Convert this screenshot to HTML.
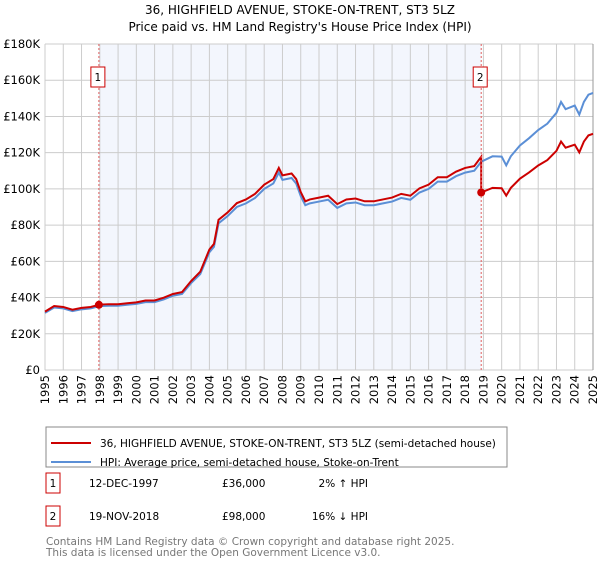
<!DOCTYPE html>
<html><head><meta charset="utf-8"><style>
body{margin:0;background:#fff;font-family:"Liberation Sans","DejaVu Sans",sans-serif;}
svg text{font-family:"DejaVu Sans","Liberation Sans",sans-serif;}
</style></head><body>
<svg id="c" width="600" height="560" xmlns="http://www.w3.org/2000/svg">
<text x="300" y="14" text-anchor="middle" font-size="12">36, HIGHFIELD AVENUE, STOKE-ON-TRENT, ST3 5LZ</text>
<text x="300" y="31" text-anchor="middle" font-size="12">Price paid vs. HM Land Registry's House Price Index (HPI)</text>
<g id="plot"></g>
<g>
<rect x="46" y="427" width="461" height="40" fill="#fff" stroke="#888"/>
<line x1="51" y1="443" x2="91" y2="443" stroke="#cc0000" stroke-width="2"/>
<text x="100" y="447" font-size="10.5">36, HIGHFIELD AVENUE, STOKE-ON-TRENT, ST3 5LZ (semi-detached house)</text>
<line x1="51" y1="462" x2="91" y2="462" stroke="#5b8fd6" stroke-width="2"/>
<text x="100" y="466" font-size="10.5">HPI: Average price, semi-detached house, Stoke-on-Trent</text>
</g>
<g font-size="10.5">
<rect x="46" y="473" width="14" height="20" fill="#fff" stroke="#cc0000"/>
<text x="53" y="487" text-anchor="middle">1</text>
<text x="89" y="487">12-DEC-1997</text>
<text x="222" y="487">£36,000</text>
<text x="368" y="487" text-anchor="end">2% ↑ HPI</text>
<rect x="46" y="506" width="14" height="20" fill="#fff" stroke="#cc0000"/>
<text x="53" y="520" text-anchor="middle">2</text>
<text x="89" y="520">19-NOV-2018</text>
<text x="222" y="520">£98,000</text>
<text x="368" y="520" text-anchor="end">16% ↓ HPI</text>
</g>
<text x="46" y="545" font-size="10.5" fill="#777">Contains HM Land Registry data © Crown copyright and database right 2025.</text>
<text x="46" y="556" font-size="10.5" fill="#777">This data is licensed under the Open Government Licence v3.0.</text>
</svg>
<script>
const hpiYears=[1995.0,1995.5,1996.0,1996.5,1997.0,1997.5,1998.0,1998.5,1999.0,1999.5,2000.0,2000.5,2001.0,2001.5,2002.0,2002.5,2003.0,2003.5,2004.0,2004.25,2004.5,2005.0,2005.5,2006.0,2006.5,2007.0,2007.5,2007.8,2008.0,2008.5,2008.75,2009.0,2009.25,2009.5,2010.0,2010.5,2011.0,2011.5,2012.0,2012.5,2013.0,2013.5,2014.0,2014.5,2015.0,2015.5,2016.0,2016.5,2017.0,2017.5,2018.0,2018.5,2018.88,2019.5,2020.0,2020.25,2020.5,2021.0,2021.5,2022.0,2022.5,2023.0,2023.25,2023.5,2024.0,2024.25,2024.5,2024.75,2025.0];
const hpiValues=[31.5,34.5,34,32.5,33.5,34,35.3,35.5,35.5,36,36.5,37.5,37.5,39,41,42,48,53,65,68,81,85,90,92,95,100,103,109,105,106,103,96,91,92,93,94,89.5,92,92.5,91,91,92,93,95,94,98,100,104,104,107,109,110,115,118,117.8,113,118,124,128,132.5,136,142,148,144,146,141,148,152,153];
const yTicks=[0,20,40,60,80,100,120,140,160,180];
const xTicks=[1995,1996,1997,1998,1999,2000,2001,2002,2003,2004,2005,2006,2007,2008,2009,2010,2011,2012,2013,2014,2015,2016,2017,2018,2019,2020,2021,2022,2023,2024,2025];
const saleDates=[1997.95,2018.88];
const salePrices=[36,98];
const saleLabels=["1","2"];

const NS="http://www.w3.org/2000/svg";
const L=45,R=593,T=44,B=370;
const x=t=>L+(t-1995)/30*(R-L);
const y=v=>B-v/180*(B-T);
const g=document.getElementById('plot');
function mk(tag,attrs,parent){const e=document.createElementNS(NS,tag);for(const k in attrs)e.setAttribute(k,attrs[k]);(parent||g).appendChild(e);return e;}

const shade=mk('rect',{x:x(saleDates[0]),y:T,width:x(saleDates[1])-x(saleDates[0]),height:B-T,fill:'#f3f6fd'});



yTicks.forEach(v=>{
 const l=mk('line',{x1:L,x2:R,y1:y(v),y2:y(v),stroke:'#cccccc'});
 
 
 const t=mk('text',{x:L-5,y:y(v)+4,'text-anchor':'end','font-size':'11.5'});
 t.textContent='£'+(v===0?'0':v+'K');
 
 
});
xTicks.forEach(yr=>{
 const l=mk('line',{x1:x(yr),x2:x(yr),y1:T,y2:B,stroke:'#cccccc'});
 
 
 const t=mk('text',{x:0,y:0,'text-anchor':'end','font-size':'11.5',transform:`translate(${x(yr)+4},${B+5}) rotate(-90)`});
 t.textContent=yr;
 
 
});
const rb=mk('line',{x1:R,x2:R,y1:T,y2:B,stroke:'#999'});



function hpiAt(t){for(let i=0;i<hpiYears.length-1;i++){if(t<=hpiYears[i+1]){const f=(t-hpiYears[i])/(hpiYears[i+1]-hpiYears[i]);return hpiValues[i]+f*(hpiValues[i+1]-hpiValues[i]);}}return hpiValues[hpiValues.length-1];}
const r1=salePrices[0]/hpiAt(saleDates[0]);
const r2=salePrices[1]/hpiAt(saleDates[1]);

const hp=mk('polyline',{points:hpiYears.map((t,i)=>x(t)+','+y(hpiValues[i])).join(' '),fill:'none',stroke:'#5b8fd6','stroke-width':2});



const pts=[];
hpiYears.forEach((t,i)=>{if(t<saleDates[1])pts.push([t,hpiValues[i]*r1]);});
pts.push([saleDates[1],hpiAt(saleDates[1])*r1]);
pts.push([saleDates[1],salePrices[1]]);
hpiYears.forEach((t,i)=>{if(t>saleDates[1])pts.push([t,hpiValues[i]*r2]);});
const pp=mk('polyline',{points:pts.map(p=>x(p[0])+','+y(p[1])).join(' '),fill:'none',stroke:'#cc0000','stroke-width':2});



saleDates.forEach((d,i)=>{
 const v=mk('line',{x1:x(d),x2:x(d),y1:T,y2:B,stroke:'#e06060','stroke-dasharray':'2,2'});
 
 
 const c=mk('circle',{cx:x(d),cy:y(salePrices[i]),r:4,fill:'#cc0000'});
 
 
 const b=mk('rect',{x:x(d)-8,y:67,width:14,height:20,fill:'#fff',stroke:'#cc0000'});
 
 
 const t=mk('text',{x:x(d)-1,y:81,'text-anchor':'middle','font-size':'10.5'});
 t.textContent=saleLabels[i];
 
 
});
</script>
</body></html>
